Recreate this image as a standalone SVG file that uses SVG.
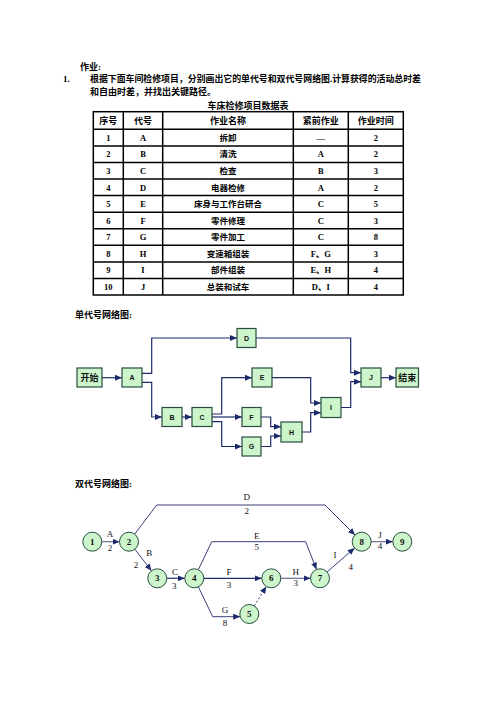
<svg xmlns="http://www.w3.org/2000/svg" width="496" height="702" viewBox="0 0 496 702">
<style>
.t{font-family:"Liberation Serif","Noto Sans CJK SC",serif;font-weight:bold;fill:#000}
.c{text-anchor:middle}
.tb{fill:none;stroke:#000;stroke-width:1.5}
.box{fill:#ccf5cc;stroke:#264d3e;stroke-width:1.2}
.bl{font-family:"Liberation Sans","Noto Sans CJK SC",sans-serif;font-weight:bold;font-size:7px;text-anchor:middle;fill:#111}
.bz{font-family:"Noto Sans CJK SC",sans-serif;font-weight:bold;font-size:9px;text-anchor:middle;fill:#111}
.e{fill:none;stroke:#1c2a6b;stroke-width:1.2}
.d{fill:none;stroke:#3a3f7a;stroke-width:1}
.g{fill:none;stroke:#6a6a90;stroke-width:1.2}
.dash{stroke-dasharray:2,2}
.nd{fill:#ccf5cc;stroke:#264d3e;stroke-width:1}
.nl{font-family:"Liberation Serif",serif;font-weight:bold;font-size:9px;text-anchor:middle;fill:#111}
.lb{font-family:"Liberation Serif",serif;font-size:9px;text-anchor:middle;fill:#111}
</style>
<defs>
<marker id="ar" markerWidth="7" markerHeight="6" refX="7" refY="3" orient="auto" markerUnits="userSpaceOnUse">
<path d="M0,0 L7,3 L0,6 z" fill="#1c2a6b"/>
</marker>
</defs>
<rect width="496" height="702" fill="#fff"/>

<!-- heading -->
<text class="t" x="80" y="70" font-size="9">作业:</text>
<text class="t" x="63" y="82" font-size="9" font-weight="normal">1.</text>
<text class="t" x="90" y="82" font-size="9" textLength="331" lengthAdjust="spacingAndGlyphs">根据下面车间检修项目，分别画出它的单代号和双代号网络图.计算获得的活动总时差</text>
<text class="t" x="90" y="95" font-size="9">和自由时差，并找出关键路径。</text>
<text class="t c" x="248" y="109" font-size="9">车床检修项目数据表</text>

<!-- table -->
<g id="table">
<rect class="tb" x="93.3" y="111.7" width="310" height="183.3"/>
<path class="tb" d="M123.3,111.7V295 M162.7,111.7V295 M293.3,111.7V295 M348.3,111.7V295
M93.3,129.3H403.3 M93.3,145.9H403.3 M93.3,162.4H403.3 M93.3,179H403.3 M93.3,195.6H403.3 M93.3,212.2H403.3 M93.3,228.7H403.3 M93.3,245.3H403.3 M93.3,261.9H403.3 M93.3,278.4H403.3"/>
<g class="t c" font-size="9">
<text x="108.3" y="123.8">序号</text><text x="143" y="123.8">代号</text><text x="228" y="123.8">作业名称</text><text x="320.8" y="123.8">紧前作业</text><text x="375.8" y="123.8">作业时间</text>
</g>
<g class="t c" font-size="8.5">
<text x="108.3" y="140.8">1</text><text x="143" y="140.8">A</text><text x="228" y="140.8">拆卸</text><text x="320.8" y="140.8">—</text><text x="375.8" y="140.8">2</text>
<text x="108.3" y="157.4">2</text><text x="143" y="157.4">B</text><text x="228" y="157.4">清洗</text><text x="320.8" y="157.4">A</text><text x="375.8" y="157.4">2</text>
<text x="108.3" y="173.9">3</text><text x="143" y="173.9">C</text><text x="228" y="173.9">检查</text><text x="320.8" y="173.9">B</text><text x="375.8" y="173.9">3</text>
<text x="108.3" y="190.5">4</text><text x="143" y="190.5">D</text><text x="228" y="190.5">电器检修</text><text x="320.8" y="190.5">A</text><text x="375.8" y="190.5">2</text>
<text x="108.3" y="207.1">5</text><text x="143" y="207.1">E</text><text x="228" y="207.1">床身与工作台研合</text><text x="320.8" y="207.1">C</text><text x="375.8" y="207.1">5</text>
<text x="108.3" y="223.7">6</text><text x="143" y="223.7">F</text><text x="228" y="223.7">零件修理</text><text x="320.8" y="223.7">C</text><text x="375.8" y="223.7">3</text>
<text x="108.3" y="240.2">7</text><text x="143" y="240.2">G</text><text x="228" y="240.2">零件加工</text><text x="320.8" y="240.2">C</text><text x="375.8" y="240.2">8</text>
<text x="108.3" y="256.8">8</text><text x="143" y="256.8">H</text><text x="228" y="256.8">变速箱组装</text><text x="320.8" y="256.8">F、G</text><text x="375.8" y="256.8">3</text>
<text x="108.3" y="273.4">9</text><text x="143" y="273.4">I</text><text x="228" y="273.4">部件组装</text><text x="320.8" y="273.4">E、H</text><text x="375.8" y="273.4">4</text>
<text x="108.3" y="289.9">10</text><text x="143" y="289.9">J</text><text x="228" y="289.9">总装和试车</text><text x="320.8" y="289.9">D、I</text><text x="375.8" y="289.9">4</text>
</g>
</g>

<text class="t" x="75" y="318" font-size="9">单代号网络图:</text>

<!-- single-code connectors -->
<g id="sc-connectors">
<path class="e" marker-end="url(#ar)" d="M102,377.7H122"/>
<path class="e" marker-end="url(#ar)" d="M142,373.3H151.7V338H237"/>
<path class="e" marker-end="url(#ar)" d="M142,382.3H151.7V417H162"/>
<path class="e" marker-end="url(#ar)" d="M182,417H192"/>
<path class="e" marker-end="url(#ar)" d="M212,414H221.7V377.7H252"/>
<path class="e" marker-end="url(#ar)" d="M212,417H242"/>
<path class="e" marker-end="url(#ar)" d="M212,421.7H221.7V446.5H242"/>
<path class="e" marker-end="url(#ar)" d="M261,417H270.7V426.7H281"/>
<path class="e" marker-end="url(#ar)" d="M261,446.5H270.7V436H281"/>
<path class="e" marker-end="url(#ar)" d="M302,432H310.7V412.7H321"/>
<path class="e" marker-end="url(#ar)" d="M272,377.7H310.7V403H321"/>
<path class="e" marker-end="url(#ar)" d="M256,338H350.7V372.7H361"/>
<path class="e" marker-end="url(#ar)" d="M341,407.5H350.7V381.7H361"/>
<path class="e" marker-end="url(#ar)" d="M381,377.7H396"/>
</g>

<!-- single-code nodes -->
<g id="sc-start"><rect class="box" x="77" y="368" width="25" height="19"/><text class="bz" x="89.5" y="380.8">开始</text></g>
<g id="sc-A"><rect class="box" x="122" y="368" width="20" height="19"/><text class="bl" x="132" y="380">A</text></g>
<g id="sc-D"><rect class="box" x="237" y="328.5" width="19" height="19"/><text class="bl" x="246.5" y="340.5">D</text></g>
<g id="sc-E"><rect class="box" x="252" y="368" width="20" height="19"/><text class="bl" x="262" y="380">E</text></g>
<g id="sc-J"><rect class="box" x="361" y="368" width="20" height="19"/><text class="bl" x="371" y="380">J</text></g>
<g id="sc-end"><rect class="box" x="396" y="368" width="22.5" height="19"/><text class="bz" x="407.2" y="380.8">结束</text></g>
<g id="sc-B"><rect class="box" x="162" y="407.5" width="20" height="19"/><text class="bl" x="172" y="419.5">B</text></g>
<g id="sc-C"><rect class="box" x="192" y="407.5" width="20" height="19"/><text class="bl" x="202" y="419.5">C</text></g>
<g id="sc-F"><rect class="box" x="242" y="407.5" width="19" height="19"/><text class="bl" x="251.5" y="419.5">F</text></g>
<g id="sc-G"><rect class="box" x="242" y="437" width="19" height="19"/><text class="bl" x="251.5" y="449">G</text></g>
<g id="sc-H"><rect class="box" x="281" y="422" width="21" height="20"/><text class="bl" x="291.5" y="434.5">H</text></g>
<g id="sc-I"><rect class="box" x="321" y="397.5" width="20" height="20"/><text class="bl" x="331" y="410">I</text></g>

<text class="t" x="75" y="487" font-size="9">双代号网络图:</text>

<!-- double-code connectors -->
<g id="dc-connectors">
<path class="g" marker-end="url(#ar)" d="M101.8,541.7H119.5"/>
<path class="d" marker-end="url(#ar)" d="M134.7,534.1L156.7,505H325L355,535"/>
<path class="d" marker-end="url(#ar)" d="M134.8,549.2L151.5,570.8"/>
<path class="e" marker-end="url(#ar)" d="M166.8,578.3H184.8"/>
<path class="d" marker-end="url(#ar)" d="M198.4,569.7L211.7,541.7H305.7L316.5,569.5"/>
<path class="e" marker-end="url(#ar)" d="M203.8,578.3H261.8"/>
<path class="d" marker-end="url(#ar)" d="M198.4,586.9L212.7,616.7H240.2"/>
<path class="d dash" marker-end="url(#ar)" d="M254.3,605.9L266.3,586.4"/>
<path class="g" marker-end="url(#ar)" d="M280.8,578.3H310.5"/>
<path class="d" marker-end="url(#ar)" d="M327.1,572L354.6,548"/>
<path class="g" marker-end="url(#ar)" d="M371.2,541.7H392.8"/>
<text class="lb" x="110" y="537">A</text><text class="lb" x="110" y="551">2</text>
<text class="lb" x="246.7" y="500">D</text><text class="lb" x="246.7" y="514">2</text>
<text class="lb" x="149.3" y="555.5">B</text><text class="lb" x="136" y="568">2</text>
<text class="lb" x="175" y="574.5">C</text><text class="lb" x="174.3" y="589">3</text>
<text class="lb" x="256.7" y="538.5">E</text><text class="lb" x="256.7" y="549.5">5</text>
<text class="lb" x="229" y="575">F</text><text class="lb" x="229" y="588">3</text>
<text class="lb" x="225" y="613">G</text><text class="lb" x="225" y="626">8</text>
<text class="lb" x="295.7" y="574.5">H</text><text class="lb" x="295.7" y="585.5">3</text>
<text class="lb" x="335" y="557.5">I</text><text class="lb" x="350.7" y="570">4</text>
<text class="lb" x="380" y="538">J</text><text class="lb" x="380" y="548.5">4</text>
</g>

<!-- double-code nodes -->
<g id="n1"><circle class="nd" cx="92.3" cy="541.7" r="9.5"/><text class="nl" x="92.3" y="544.8">1</text></g>
<g id="n2"><circle class="nd" cx="129" cy="541.7" r="9.5"/><text class="nl" x="129" y="544.8">2</text></g>
<g id="n3"><circle class="nd" cx="157.3" cy="578.3" r="9.5"/><text class="nl" x="157.3" y="581.4">3</text></g>
<g id="n4"><circle class="nd" cx="194.3" cy="578.3" r="9.5"/><text class="nl" x="194.3" y="581.4">4</text></g>
<g id="n5"><circle class="nd" cx="249.3" cy="614" r="9.5"/><text class="nl" x="249.3" y="617.1">5</text></g>
<g id="n6"><circle class="nd" cx="271.3" cy="578.3" r="9.5"/><text class="nl" x="271.3" y="581.4">6</text></g>
<g id="n7"><circle class="nd" cx="320" cy="578.3" r="9.5"/><text class="nl" x="320" y="581.4">7</text></g>
<g id="n8"><circle class="nd" cx="361.7" cy="541.7" r="9.5"/><text class="nl" x="361.7" y="544.8">8</text></g>
<g id="n9"><circle class="nd" cx="402.3" cy="541.7" r="9.5"/><text class="nl" x="402.3" y="544.8">9</text></g>
</svg>
